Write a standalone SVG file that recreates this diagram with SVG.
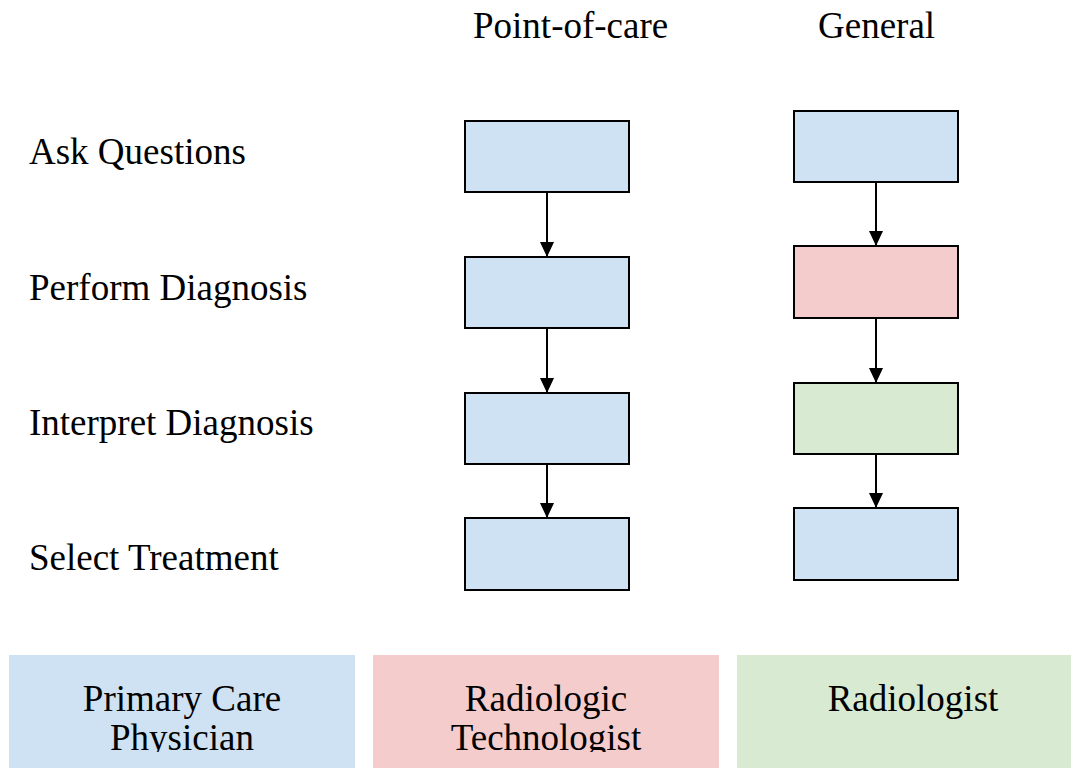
<svg xmlns="http://www.w3.org/2000/svg" width="1071" height="768" viewBox="0 0 1071 768">
<style>
text{font-family:"Liberation Serif","Times New Roman",serif;font-size:37px;fill:#000}
.box{stroke:#000;stroke-width:2}
.blue{fill:#cfe2f3}.pink{fill:#f4cccc}.green{fill:#d9ead3}
.edge{stroke:#000;stroke-width:2;fill:none}
.mid{text-anchor:middle}
</style>
<defs>
<marker id="arr" viewBox="0 0 15 14" refX="15" refY="7" markerWidth="15" markerHeight="14" markerUnits="userSpaceOnUse" orient="auto">
<path d="M0,0 L15,7 L0,14 Z" fill="#000"/>
</marker>
<clipPath id="clipBottom"><rect x="0" y="0" width="1071" height="752"/></clipPath>
</defs>
<rect width="1071" height="768" fill="#fff"/>
<g id="headers">
<text x="473" y="38">Point-of-care</text>
<text x="818" y="38">General</text>
</g>
<g id="rows">
<text x="29" y="164">Ask Questions</text>
<text x="29" y="300">Perform Diagnosis</text>
<text x="29" y="435">Interpret Diagnosis</text>
<text x="29" y="570">Select Treatment</text>
</g>
<g id="connectors">
<line class="edge" x1="547" y1="192" x2="547" y2="257" marker-end="url(#arr)"/>
<line class="edge" x1="547" y1="328" x2="547" y2="393" marker-end="url(#arr)"/>
<line class="edge" x1="547" y1="464" x2="547" y2="518" marker-end="url(#arr)"/>
<line class="edge" x1="876" y1="182" x2="876" y2="246" marker-end="url(#arr)"/>
<line class="edge" x1="876" y1="318" x2="876" y2="383" marker-end="url(#arr)"/>
<line class="edge" x1="876" y1="454" x2="876" y2="508" marker-end="url(#arr)"/>
</g>
<g id="p1"><rect class="box blue" x="465" y="121" width="164" height="71"/></g>
<g id="p2"><rect class="box blue" x="465" y="257" width="164" height="71"/></g>
<g id="p3"><rect class="box blue" x="465" y="393" width="164" height="71"/></g>
<g id="p4"><rect class="box blue" x="465" y="518" width="164" height="72"/></g>
<g id="g1"><rect class="box blue" x="794" y="111" width="164" height="71"/></g>
<g id="g2"><rect class="box pink" x="794" y="246" width="164" height="72"/></g>
<g id="g3"><rect class="box green" x="794" y="383" width="164" height="71"/></g>
<g id="g4"><rect class="box blue" x="794" y="508" width="164" height="72"/></g>
<g id="legend-pcp">
<rect class="blue" x="9" y="655" width="346" height="113"/>
<g clip-path="url(#clipBottom)">
<text class="mid" x="182" y="711">Primary Care</text>
<text class="mid" x="182" y="750">Physician</text>
</g>
</g>
<g id="legend-rt">
<rect class="pink" x="373" y="655" width="346" height="113"/>
<g clip-path="url(#clipBottom)">
<text class="mid" x="546" y="711">Radiologic</text>
<text class="mid" x="546" y="750">Technologist</text>
</g>
</g>
<g id="legend-rad">
<rect class="green" x="737" y="655" width="346" height="113"/>
<text class="mid" x="913" y="711">Radiologist</text>
</g>
</svg>
